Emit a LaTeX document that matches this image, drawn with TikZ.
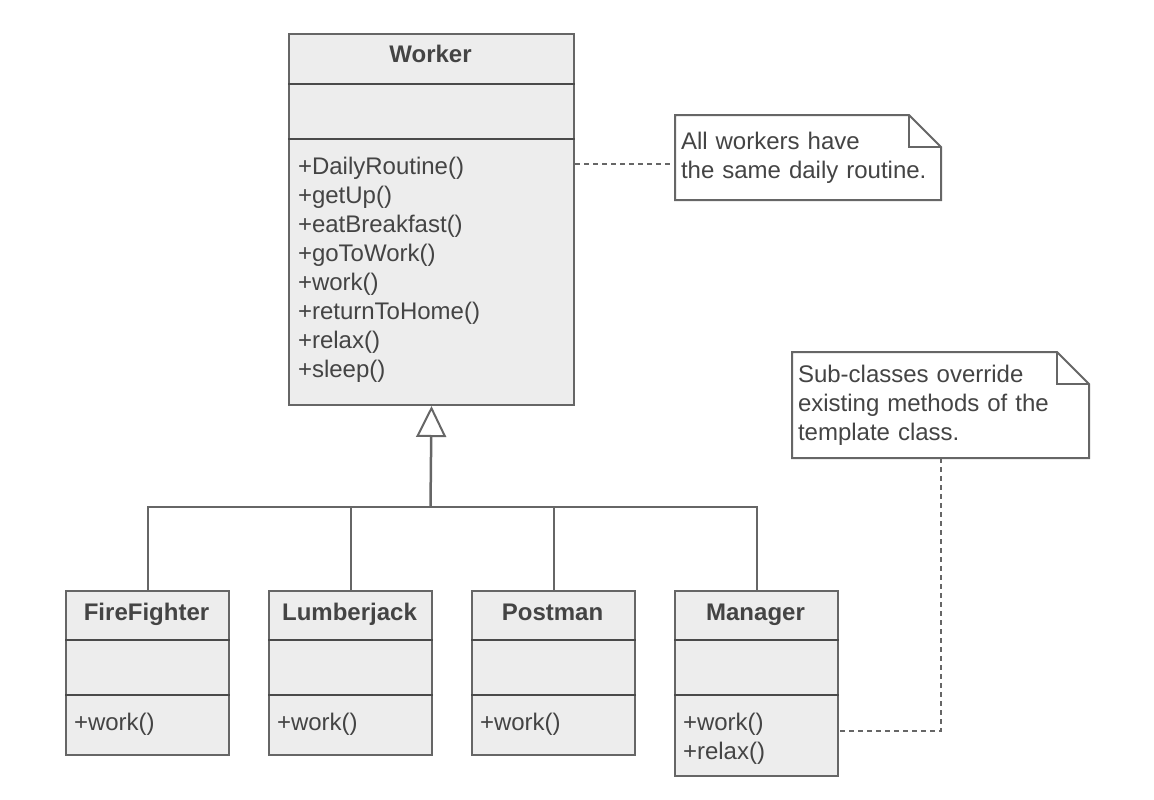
\documentclass[tikz,border=0pt]{standalone}
\usepackage{fontspec}
\setmainfont{Liberation Sans}
\usetikzlibrary{arrows.meta}
\definecolor{classfill}{HTML}{EDEDED}
\definecolor{linegray}{HTML}{666666}
\definecolor{sepgray}{HTML}{4A4A4A}
\definecolor{textgray}{HTML}{444444}

\begin{document}
\begin{tikzpicture}
  [x=1pt,y=-1pt,line width=2pt,
   every node/.style={inner sep=0pt,text=textgray,font=\fontsize{24}{29}\selectfont},
   classbox/.style={draw=linegray,fill=classfill,anchor=north west},
   classname/.style={anchor=base,font=\fontsize{24}{29}\selectfont\bfseries},
   member/.style={anchor=base west},
   compart/.style={draw=sepgray,line width=2.5pt},
   note/.style={fill=white,anchor=north west,text width=#1,align=left,inner xsep=5pt},
   notelink/.style={draw=linegray,dash pattern=on 5pt off 4pt},
   inherit/.style={draw=linegray}]
  \useasboundingbox (0,0) rectangle (1154,800);

  \node[classbox,minimum width=285pt,minimum height=371pt] (worker) at (288,33) {};
  \node[classname] (workername) at (430.5,63) {Worker};
  \draw[compart] ([yshift=-51pt]worker.north west) -- ([yshift=-51pt]worker.north east);
  \draw[compart] ([yshift=-106pt]worker.north west) -- ([yshift=-106pt]worker.north east);
  \foreach \op [count=\i from 0] in {DailyRoutine,getUp,eatBreakfast,goToWork,work,returnToHome,relax,sleep}
    \node[member] (op\i) at (297,174+29*\i) {+\op()};

  \node[classbox,minimum width=163pt,minimum height=164pt] (firefighter) at (65,590) {};
  \node[classbox,minimum width=163pt,minimum height=164pt] (lumberjack) at (268,590) {};
  \node[classbox,minimum width=163pt,minimum height=164pt] (postman) at (471,590) {};
  \node[classbox,minimum width=163pt,minimum height=185pt] (manager) at (674,590) {};
  \foreach \cls in {firefighter,lumberjack,postman,manager}{
    \draw[compart] ([yshift=-50pt]\cls.north west) -- ([yshift=-50pt]\cls.north east);
    \draw[compart] ([yshift=-105pt]\cls.north west) -- ([yshift=-105pt]\cls.north east);
  }
  \node[classname] (firename) at (146.5,620) {FireFighter};
  \node[classname] (lumbername) at (349.5,620) {Lumberjack};
  \node[classname] (postname) at (552.5,620) {Postman};
  \node[classname] (managername) at (755.5,620) {Manager};
  \node[member] (firework) at (73,730) {+work()};
  \node[member] (lumberwork) at (276,730) {+work()};
  \node[member] (postwork) at (479,730) {+work()};
  \node[member] (managerwork) at (682,730) {+work()};
  \node[member] (managerrelax) at (682,759) {+relax()};

  % inheritance
  \coordinate (fork) at (430.5,507);
  \draw[inherit,line width=2.5pt,-{Triangle[open,length=31pt,width=30pt,line width=2pt]}] (fork) -- (worker.south);
  \foreach \cls in {firefighter,lumberjack,postman,manager}
    \draw[inherit] (\cls.north) |- (fork);

  % notes
  \node[note=254pt,minimum height=83pt] (note1) at (675,115) {All workers have\\the same daily routine.};
  \draw[linegray] (note1.north west) -- ([xshift=-32pt]note1.north east) -- ([yshift=-32pt]note1.north east)
    -- (note1.south east) -- (note1.south west) -- cycle;
  \draw[linegray] ([xshift=-32pt]note1.north east) |- ([yshift=-32pt]note1.north east);
  \node[note=285pt,minimum height=104pt] (note2) at (792,352) {Sub-classes override\\existing methods of the\\template class.};
  \draw[linegray] (note2.north west) -- ([xshift=-32pt]note2.north east) -- ([yshift=-32pt]note2.north east)
    -- (note2.south east) -- (note2.south west) -- cycle;
  \draw[linegray] ([xshift=-32pt]note2.north east) |- ([yshift=-32pt]note2.north east);

  \coordinate (link1) at ([yshift=-6.5pt]note1.west);
  \draw[notelink] (worker.east |- link1) -- (link1);
  \draw[notelink] (note2.south) |- ([yshift=-47.5pt]manager.east);

\end{tikzpicture}
\end{document}
